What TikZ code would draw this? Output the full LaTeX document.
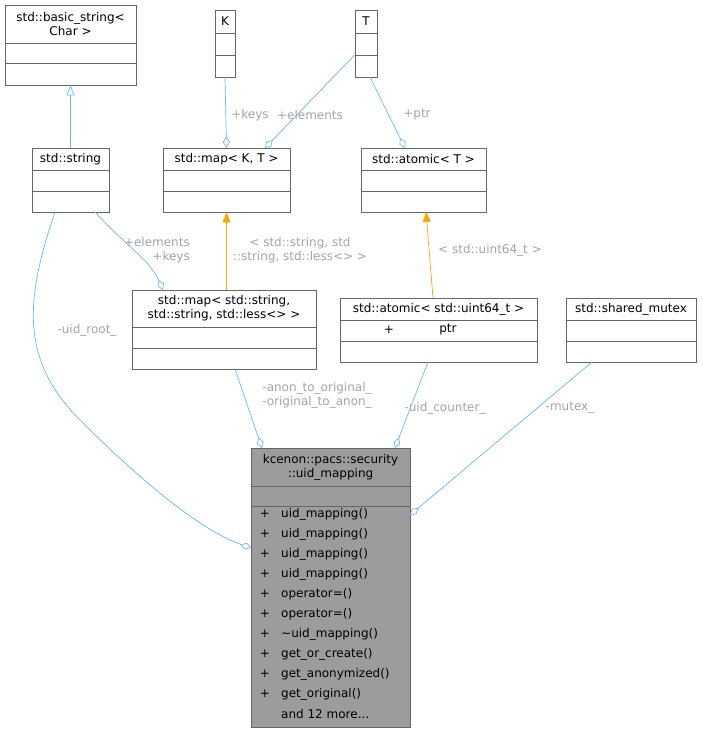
\documentclass[tikz,border=0pt]{standalone}
\usepackage{fontspec}
\setmainfont{DejaVu Sans}
\usetikzlibrary{arrows.meta}

\definecolor{edgeblue}{HTML}{63B8FF}
\definecolor{edgeorange}{HTML}{FFA500}
\definecolor{lblgray}{HTML}{9A9A9A}
\definecolor{boxgray}{HTML}{666666}

\tikzset{
  box/.style={draw=boxgray,fill=white,inner sep=0pt,line width=0.7pt},
  txt/.style={font=\fontsize{12}{14}\selectfont,align=center,inner sep=0pt},
  lbl/.style={font=\fontsize{12}{14}\selectfont,text=lblgray!90,align=center,inner sep=0pt},
  sep/.style={draw=boxgray,line width=0.7pt},
  member/.style={edgeblue,line width=0.7pt,-{Diamond[open,length=11pt,width=7pt]}},
  inherit/.style={edgeblue,line width=0.7pt,-{Triangle[open,length=10pt,width=8pt]}},
  templ/.style={edgeorange,line width=0.7pt,-{Triangle[length=10pt,width=8pt]}}
}

\begin{document}
\begin{tikzpicture}[x=1pt,y=-1pt]
  \useasboundingbox (0,0) rectangle (702,733);

  % Top row
  \node[box,minimum width=131pt,minimum height=80pt] (bstr) at (70.5,45) {};
  \node[txt] at (70.5,24) {std::basic\_string<\\Char >};
  \draw[sep] (5,43) -- (136,43) (5,63) -- (136,63);

  \node[box,minimum width=20pt,minimum height=67pt] (K) at (225,43.5) {};
  \node[txt] at (225,21.5) {K};
  \draw[sep] (215,33) -- (235,33) (215,55) -- (235,55);

  \node[box,minimum width=22pt,minimum height=67pt] (T) at (366,43.5) {};
  \node[txt] at (366,21.5) {T};
  \draw[sep] (355,33) -- (377,33) (355,55) -- (377,55);

  % Second row
  \node[box,minimum width=77pt,minimum height=64pt] (str) at (70.5,180) {};
  \node[txt] at (70.5,159) {std::string};
  \draw[sep] (32,170) -- (109,170) (32,191) -- (109,191);

  \node[box,minimum width=127pt,minimum height=64pt] (mapKT) at (226.5,180) {};
  \node[txt] at (226.5,159) {std::map< K, T >};
  \draw[sep] (163,170) -- (290,170) (163,191) -- (290,191);

  \node[box,minimum width=125pt,minimum height=64pt] (atomT) at (423.5,180) {};
  \node[txt] at (423.5,159) {std::atomic< T >};
  \draw[sep] (361,170) -- (486,170) (361,191) -- (486,191);

  % Third row
  \node[box,minimum width=184pt,minimum height=79pt] (mapStr) at (224,329.5) {};
  \node[txt] at (224,308.5) {std::map< std::string,\\std::string, std::less<> >};
  \draw[sep] (132,327) -- (316,327) (132,348) -- (316,348);

  \node[box,minimum width=197pt,minimum height=64pt] (atomU) at (438.5,330) {};
  \node[txt] at (438.5,309) {std::atomic< std::uint64\_t >};
  \node[txt] at (389,330) {+};
  \node[txt] at (448,330) {ptr};
  \draw[sep] (340,320) -- (537,320) (340,341) -- (537,341);

  \node[box,minimum width=130pt,minimum height=64pt] (mtx) at (631,330) {};
  \node[txt] at (631,309) {std::shared\_mutex};
  \draw[sep] (566,320) -- (696,320) (566,341) -- (696,341);

  % Main class
  \node[box,fill=boxgray!65,minimum width=159pt,minimum height=279pt] (uid) at (330.5,587.5) {};
  \node[txt] at (330.5,467) {kcenon::pacs::security\\::uid\_mapping};
  \draw[sep] (251,486) -- (410,486) (251,506) -- (410,506);
  \foreach \y/\m in {514/uid\_mapping(),534/uid\_mapping(),554/uid\_mapping(),
                     574/uid\_mapping(),594/operator=(),614/operator=(),
                     634/\textasciitilde uid\_mapping(),654/get\_or\_create(),
                     674/get\_anonymized(),694/get\_original()} {
    \node[txt] at (265,\y) {+};
    \node[txt,anchor=west] at (281,\y) {\m};
  }
  \node[txt,anchor=west] at (281,714) {and 12 more...};

  % Connectors
  \draw[inherit] (str.north) -- (bstr.south);
  \draw[member] (K.south) -- (mapKT.north);
  \draw[member] (T.west |- 0,55) -- (265,148);
  \draw[member] (370,77) -- (405,148);
  \draw[templ] (mapStr.north -| mapKT.south) -- (mapKT.south);
  \draw[templ] (433,298) -- (426,212);
  \draw[member] (95,212) .. controls (125,245) and (150,260) .. (163,290);
  \draw[member] (55,212) .. controls (25,300) and (20,360) .. (80,420)
    .. controls (140,480) and (200,530) .. (251,548);
  \draw[member] (235,369) -- (262,448);
  \draw[member] (428,362) -- (395,448);
  \draw[member] (592,362) -- (410,515);

  % Edge labels
  \node[lbl] at (250,115) {+keys};
  \node[lbl] at (310,115) {+elements};
  \node[lbl] at (417,115) {+ptr};
  \node[lbl] at (300,250) {< std::string, std\\::string, std::less<> >};
  \node[lbl,align=right,anchor=east] at (190,250) {+elements\\+keys};
  \node[lbl] at (490,250) {< std::uint64\_t >};
  \node[lbl] at (87,330) {-uid\_root\_};
  \node[lbl] at (317,395) {-anon\_to\_original\_\\-original\_to\_anon\_};
  \node[lbl] at (445,408) {-uid\_counter\_};
  \node[lbl] at (570,408) {-mutex\_};
\end{tikzpicture}
\end{document}
